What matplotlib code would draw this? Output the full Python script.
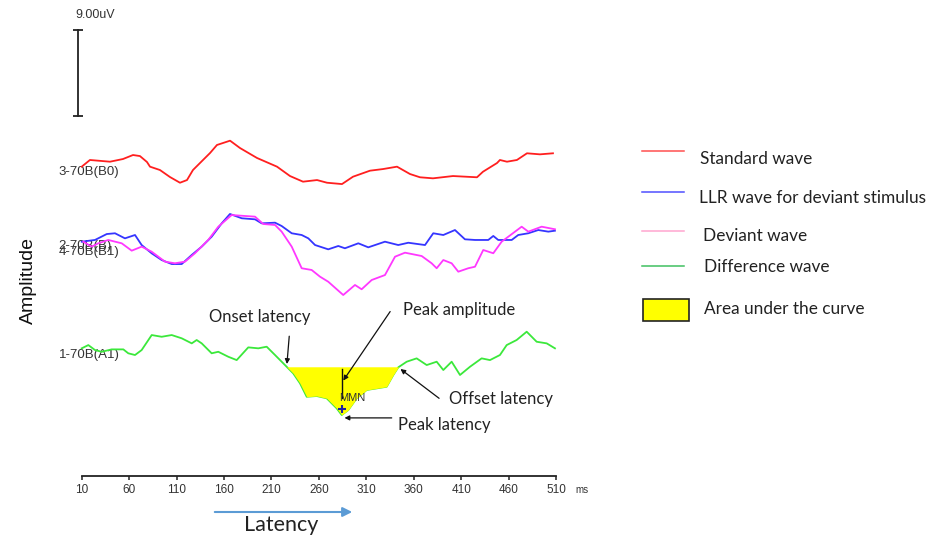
import matplotlib
matplotlib.use("Agg")
import matplotlib.pyplot as plt
from matplotlib.lines import Line2D
from matplotlib.patches import Rectangle, FancyArrowPatch
import numpy as np

W, H = 930, 540

# latency (ms) / amplitude (uV, relative to each trace's own baseline)
STANDARD_MS = [10, 18.7, 39.8, 53.5, 64.1, 71.4, 78.8, 82.0, 92.5, 103.0, 113.6, 121.0,
               127.3, 137.9, 145.3, 152.6, 166.4, 176.9, 194.8, 215.9, 229.6, 243.3,
               258.1, 268.6, 284.4, 296.0, 313.9, 327.6, 342.4, 356.1, 366.6, 380.3,
               401.4, 426.7, 433.0, 447.8, 450.9, 458.3, 468.8, 479.4, 493.1, 506.8]
STANDARD_UV = [0.57, 1.27, 1.09, 1.37, 1.79, 1.68, 1.06, 0.57, 0.22, -0.51, -1.11, -0.83,
               0.22, 1.27, 2.00, 2.84, 3.29, 2.52, 1.48, 0.57, -0.41, -1.00,
               -0.83, -1.11, -1.25, -0.48, 0.15, 0.32, 0.57, -0.20, -0.54, -0.65,
               -0.41, -0.54, 0.04, 0.95, 1.27, 1.09, 1.27, 1.97, 1.86, 1.97]

LLR_MS = [10, 24.0, 36.4, 45.1, 55.6, 66.2, 73.2, 83.8, 94.3, 104.9, 115.4, 126.0, 136.5,
          147.0, 157.6, 166.3, 178.7, 192.7, 199.7, 213.8, 220.8, 231.4, 241.9, 248.9,
          256.0, 269.9, 280.5, 287.5, 301.6, 312.1, 329.7, 343.7, 354.3, 371.9, 380.6,
          391.2, 403.5, 414.0, 424.6, 438.6, 443.9, 449.1, 463.3, 470.2, 480.8, 491.3,
          501.9, 508.9]
LLR_UV = [0.42, 0.60, 1.22, 1.30, 0.77, 1.12, 0.07, -0.80, -1.50, -1.92, -1.92, -0.97, -0.10,
          0.94, 2.34, 3.32, 2.87, 2.76, 2.34, 2.41, 2.06, 1.30, 1.12, 0.77,
          0.07, -0.38, -0.03, -0.27, 0.25, -0.17, 0.42, 0.07, 0.31, 0.07, 1.30,
          1.12, 1.64, 0.67, 0.60, 0.60, 1.02, 0.60, 0.60, 1.12, 1.30, 1.64,
          1.47, 1.57]

DEVIANT_MS = [11.7, 20.5, 27.5, 38.0, 52.2, 62.7, 73.2, 83.8, 97.8, 108.3, 118.9, 129.4,
              143.4, 154.0, 168.1, 182.1, 192.7, 201.4, 213.8, 220.8, 231.4, 241.9, 252.4,
              261.2, 269.9, 285.7, 298.1, 305.1, 315.7, 329.7, 340.3, 350.8, 368.4, 378.9,
              384.2, 391.2, 400.0, 407.0, 417.5, 424.6, 433.3, 443.9, 452.7, 459.7, 473.8,
              480.8, 494.9, 508.9]
DEVIANT_UV = [1.12, 0.60, 0.95, 1.30, 0.95, 0.18, 0.60, 0.07, -0.97, -1.14, -0.97, -0.09,
              1.30, 2.69, 3.91, 3.81, 3.74, 2.97, 2.87, 2.17, 0.60, -1.66, -1.84,
              -2.54, -3.07, -4.46, -3.41, -3.86, -2.89, -2.37, -0.45, -0.03, -0.38, -1.14,
              -1.66, -0.80, -1.14, -2.02, -1.66, -1.50, 0.25, -0.09, 1.12, 1.64, 2.69,
              2.17, 2.69, 2.42]

DIFF_MS = [10, 17.0, 24.0, 31.1, 41.6, 53.9, 59.1, 66.2, 73.2, 83.8, 94.3, 104.9, 115.4,
           126.0, 131.2, 136.5, 147.0, 154.0, 164.5, 173.4, 185.6, 196.2, 205.0, 213.8,
           226.1, 233.0, 240.1, 247.2, 257.7, 268.3, 278.8, 284.1, 291.0, 299.9, 310.4,
           321.0, 331.5, 338.5, 343.7, 352.6, 363.1, 373.7, 384.2, 391.2, 400.0, 408.8,
           419.3, 431.6, 440.4, 450.9, 458.0, 468.5, 479.1, 489.6, 500.2, 508.9]
DIFF_UV = [0.66, 1.00, 0.48, 0.30, 0.55, 0.55, 0.14, -0.04, 0.48, 2.05, 1.87, 2.05, 1.71,
           1.18, 1.53, 1.18, 0.14, 0.30, -0.22, -0.57, 0.76, 0.66, 0.83, -0.04,
           -1.27, -1.96, -3.00, -4.41, -4.33, -4.57, -5.62, -6.32, -5.80, -4.57, -3.70,
           -3.53, -3.36, -2.13, -1.33, -0.74, -0.39, -1.09, -0.74, -1.61, -0.74, -2.13,
           -1.27, -0.39, -0.57, -0.04, 1.00, 1.53, 2.40, 1.35, 1.18, 0.66]

# MMN measures on the difference wave
ONSET_MS = 226.1
OFFSET_MS = 343.7
PEAK_MS = 284.1
PEAK_UV = -6.32

SCALE_UV = 9.0
TICKS = [10, 60, 110, 160, 210, 260, 310, 360, 410, 460, 510]

# vertical stacking of the traces (uV above the time axis)
TRACES = [
    ("3-70B(B0)", STANDARD_MS, STANDARD_UV, 31.8, "#ff1f1f"),
    ("2-70B(B)", LLR_MS, LLR_UV, 24.1, "#3535ff"),
    ("4-70B(B1)", DEVIANT_MS, DEVIANT_UV, 23.4, "#ff38ff"),
    ("1-70B(A1)", DIFF_MS, DIFF_UV, 12.7, "#3be83b"),
]

LEGEND = [
    ("Standard wave", "#ff5050"),
    ("LLR wave for deviant stimulus", "#5050ff"),
    ("Deviant wave", "#ffa6cf"),
    ("Difference wave", "#40c060"),
]

SANS = "Liberation Sans"
BODY = "Lato"
PX_PER_UV = 9.556


def fpos(x, y):
    return x / W, 1 - y / H


fig = plt.figure(figsize=(W / 100, H / 100), dpi=100)
fig.patch.set_facecolor("white")
ax = fig.add_axes([81.7 / W, (H - 476) / H, 474.3 / W, 476 / H])
ax.set_xlim(10, 510)
ax.set_ylim(0, 476 / PX_PER_UV)
for side in ("top", "left", "right"):
    ax.spines[side].set_visible(False)
ax.spines["bottom"].set_linewidth(1.3)
ax.spines["bottom"].set_color("#222222")
ax.set_yticks([])
ax.set_xticks(TICKS)
ax.set_xticklabels([str(t) for t in TICKS], fontsize=8.5, family=SANS, color="#333333")
ax.tick_params(axis="x", direction="out", length=3, width=1.1, color="#222222", pad=3)
ax.patch.set_alpha(0)

# waveforms
for name, ms, uv, base, color in TRACES:
    ax.plot(ms, np.asarray(uv) + base, color=color, lw=1.3, zorder=3, clip_on=False)

for name, _, _, base, _ in TRACES:
    ax.text(-14.5, base, name, fontsize=9.5, family=SANS, color="#333333",
            ha="left", va="center", clip_on=False, zorder=2)

# area under the difference wave between onset and offset
diff_base = TRACES[3][3]
t = np.asarray(DIFF_MS)
v = np.asarray(DIFF_UV) + diff_base
onset_level = np.interp(ONSET_MS, t, v)
sel = (t >= ONSET_MS) & (t <= OFFSET_MS)
ax.fill_between(t[sel], v[sel], onset_level, color="#ffff00", lw=0, zorder=4)
peak_y = PEAK_UV + diff_base
ax.plot([PEAK_MS, PEAK_MS], [onset_level - 0.2, peak_y + 1.8], color="#111111", lw=1.0, zorder=5)
ax.plot(PEAK_MS, peak_y + 0.6, marker="+", color="#2020a0", ms=6, mew=1.5, zorder=6)
ax.text(PEAK_MS - 3, peak_y + 1.8, "MMN", fontsize=8, family=SANS, color="#333333",
        ha="left", va="center", zorder=6)

# annotation arrows
arrow_kw = dict(arrowstyle="-|>", color="#111111", lw=0.9, mutation_scale=7)
ax.annotate("", xy=(ONSET_MS, onset_level), xytext=(2, 24), textcoords="offset points",
            arrowprops=arrow_kw, zorder=7)
ax.annotate("", xy=(PEAK_MS, onset_level + (peak_y - onset_level) / 3),
            xytext=(36, 53), textcoords="offset points", arrowprops=arrow_kw, zorder=7)
ax.annotate("", xy=(OFFSET_MS, np.interp(OFFSET_MS, t, v)), xytext=(31, -23.5),
            textcoords="offset points", arrowprops=arrow_kw, zorder=7)
ax.annotate("", xy=(PEAK_MS, peak_y - 0.3), xytext=(38, 0), textcoords="offset points",
            arrowprops=arrow_kw, zorder=7)

note_kw = dict(fontsize=12, family=BODY, color="#222222", ha="left", va="center")
fig.text(*fpos(209, 317), "Onset latency", **note_kw)
fig.text(*fpos(403, 310), "Peak amplitude", **note_kw)
fig.text(*fpos(449, 399), "Offset latency", **note_kw)
fig.text(*fpos(398, 425), "Peak latency", **note_kw)

# amplitude scale bar
bar_x = 6.1
bar_y0 = (476 - 116) / PX_PER_UV
ax.plot([bar_x, bar_x], [bar_y0, bar_y0 + SCALE_UV], color="#222222", lw=1.3,
        marker="_", ms=7, mew=1.3, clip_on=False)
fig.text(*fpos(75, 15), f"{SCALE_UV:.2f}uV", fontsize=9, family=SANS, color="#333333",
         ha="left", va="center")

fig.text(*fpos(575, 490), "ms", fontsize=7, family=SANS, color="#333333", ha="left", va="center")
fig.text(*fpos(28, 280), "Amplitude", fontsize=14, family=SANS, color="#111111",
         rotation=90, ha="center", va="center")

# latency direction arrow
fig.add_artist(FancyArrowPatch(fpos(212, 512), fpos(355, 512), transform=fig.transFigure,
                               arrowstyle="-|>", mutation_scale=14, color="#5b9bd5", lw=1.5))
fig.text(*fpos(281, 525), "Latency", fontsize=15.5, family=BODY, color="#222222",
         ha="center", va="center")

# legend
rows = [(151, 159, 700), (192, 198, 699), (231, 236, 703), (266, 267, 704)]
for (label, color), (ly, ty, tx) in zip(LEGEND, rows):
    fig.add_artist(Line2D([642 / W, 684 / W], [1 - ly / H, 1 - ly / H], color=color, lw=1.1))
    fig.text(*fpos(tx, ty), label, fontsize=12.4, family=BODY, color="#222222",
             ha="left", va="center")
fig.add_artist(Rectangle(fpos(643, 321), 46 / W, 22 / H, transform=fig.transFigure,
                         facecolor="#ffff00", edgecolor="#222222", lw=1.2))
fig.text(*fpos(704, 309), "Area under the curve", fontsize=12.4, family=BODY, color="#222222",
         ha="left", va="center")

fig.savefig("out.png", dpi=100)
